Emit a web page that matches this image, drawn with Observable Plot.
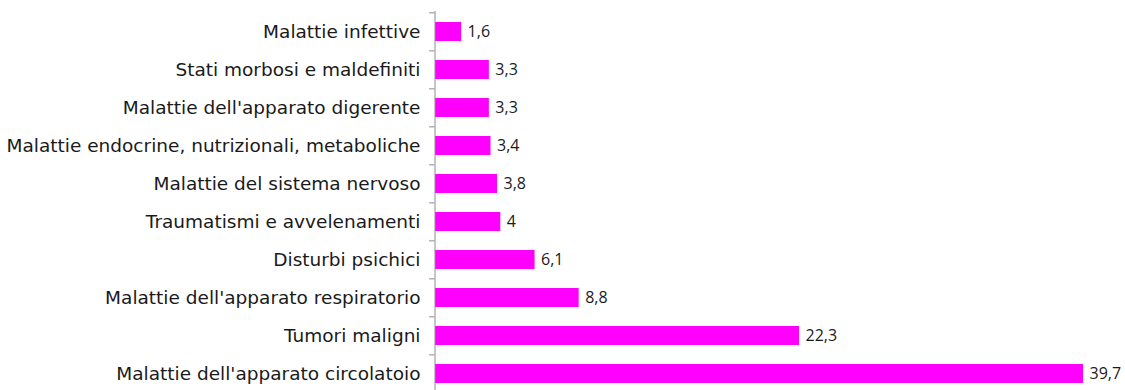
<!DOCTYPE html>
<html>
<head>
<meta charset="utf-8">
<script src="https://cdn.jsdelivr.net/npm/d3@7"></script>
<script src="https://cdn.jsdelivr.net/npm/@observablehq/plot@0.6"></script>
<style>
  html, body { margin: 0; padding: 0; background: #fff; overflow: hidden; }
  #chart svg { display: block; }
</style>
</head>
<body>
<div id="chart"></div>
<script>
const categories = [
  "Malattie infettive",
  "Stati morbosi e maldefiniti",
  "Malattie dell'apparato digerente",
  "Malattie endocrine, nutrizionali, metaboliche",
  "Malattie del sistema nervoso",
  "Traumatismi e avvelenamenti",
  "Disturbi psichici",
  "Malattie dell'apparato respiratorio",
  "Tumori maligni",
  "Malattie dell'apparato circolatoio"
];
const values = [1.6, 3.3, 3.3, 3.4, 3.8, 4, 6.1, 8.8, 22.3, 39.7];
const valueLabels = ["1,6", "3,3", "3,3", "3,4", "3,8", "4", "6,1", "8,8", "22,3", "39,7"];

const data = categories.map((c, i) => ({category: c, value: values[i], label: valueLabels[i]}));
const step = 383 / 10;

const chart = Plot.plot({
  width: 1125,
  height: 400,
  marginTop: 11,
  marginBottom: 6,
  marginLeft: 435,
  marginRight: 42,
  style: {fontFamily: "'DejaVu Sans', Verdana, sans-serif", fontSize: "18.5px", color: "#1a1a1a", background: "#fff"},
  x: {domain: [0, 39.7], axis: null},
  y: {domain: categories, paddingInner: 0.5, paddingOuter: 0.25, axis: null},
  marks: [
    Plot.barX(data, {x: "value", y: "category", fill: "#ff00ff"}),
    Plot.text(data, {
      x: "value", y: "category", text: "label", textAnchor: "start", dx: 6,
      fontFamily: "'Open Sans', sans-serif", fontSize: 16, fill: "#1a1a1a"
    }),
    Plot.text(data, {
      x: 0, y: "category", text: "category", textAnchor: "end", dx: -15,
      fontFamily: "'DejaVu Sans', Verdana, sans-serif", fontSize: 18.5, fill: "#1a1a1a"
    }),
    Plot.ruleX([0], {stroke: "#8c8c8c", strokeWidth: 1, dx: -0.5}),
    Plot.ruleY(categories, {
      y: (d) => d, x1: -0.33, x2: 0, dx: -0.5, dy: -step / 2, stroke: "#8c8c8c"
    })
  ]
});
document.getElementById("chart").appendChild(chart);
</script>
</body>
</html>
